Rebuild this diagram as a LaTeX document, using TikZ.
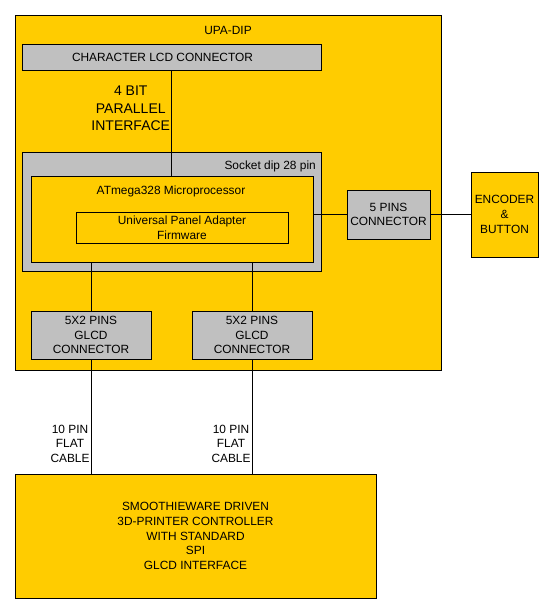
\documentclass[tikz,border=0pt]{standalone}
\usepackage{fontspec}
\setmainfont{Liberation Sans}
\definecolor{upayellow}{RGB}{255,204,0}
\definecolor{upagray}{RGB}{192,192,192}
\tikzset{
  ybox/.style={draw, fill=upayellow, line width=0.9pt, inner sep=0pt},
  gbox/.style={draw, fill=upagray, line width=0.9pt, inner sep=0pt},
  txt/.style={font=\fontsize{11.9}{14.7}\selectfont, align=center, inner sep=0pt},
  wire/.style={line width=0.9pt}
}
\begin{document}
\begin{tikzpicture}[x=1pt, y=-1pt]
        \useasboundingbox (0,0) rectangle (550,613);

        % UPA-DIP board
        \node[ybox, minimum width=426pt, minimum height=355pt] (board) at (228,192.5) {};
        \node[txt] (boardtitle) at (228,30) {UPA-DIP};

        % Character LCD connector
        \node[gbox, minimum width=299pt, minimum height=26pt] (lcd) at (171.5,57) {};
        \node[txt] (lcdtitle) at (162.5,57) {CHARACTER LCD CONNECTOR};

        % Socket with the microprocessor
        \node[gbox, minimum width=299pt, minimum height=119pt] (socket) at (171.5,211.5) {};
        \node[txt, anchor=east] (sockettitle) at (316,166) {Socket dip 28 pin};
        \node[ybox, minimum width=282pt, minimum height=86pt] (micro) at (172,219) {};
        \node[txt] (microtitle) at (171,191) {ATmega328 Microprocessor};
        \node[ybox, txt, minimum width=212pt, minimum height=31pt] (firmware) at (182,227.5) {Universal Panel Adapter\\Firmware};

        % 5 pins connector and encoder
        \node[gbox, txt, minimum width=83pt, minimum height=49pt] (pins5) at (388.5,214.5) {5 PINS\\CONNECTOR};
        \node[ybox, txt, minimum width=67pt, minimum height=85pt] (encoder) at (504.5,214.5) {ENCODER\\\&\\BUTTON};

        % GLCD connectors
        \node[gbox, txt, minimum width=120pt, minimum height=48pt] (glcda) at (91,335) {5X2 PINS\\GLCD\\CONNECTOR};
        \node[gbox, txt, minimum width=120pt, minimum height=48pt] (glcdb) at (252,335) {5X2 PINS\\GLCD\\CONNECTOR};

        % 3D printer controller
        \node[ybox, txt, minimum width=361pt, minimum height=124pt] (ctrl) at (195.5,536) {SMOOTHIEWARE DRIVEN\\3D-PRINTER CONTROLLER\\WITH STANDARD\\SPI\\GLCD INTERFACE};

        % Wires
        \draw[wire] (lcd.south) -- (lcd.south |- micro.north)
            node[pos=0.36, left=1pt, txt, font=\fontsize{14}{17.5}\selectfont] {4 BIT\\PARALLEL\\INTERFACE};
        \draw[wire] (pins5.west) -- (pins5.west -| micro.east);
        \draw[wire] (pins5.east) -- (encoder.west);
        \draw[wire] (glcda.north) -- (glcda.north |- micro.south);
        \draw[wire] (glcdb.north) -- (glcdb.north |- micro.south);
        \draw[wire] (glcda.south) -- (glcda.south |- ctrl.north)
            node[pos=0.74, left=1pt, txt] {10 PIN\\FLAT\\CABLE};
        \draw[wire] (glcdb.south) -- (glcdb.south |- ctrl.north)
            node[pos=0.74, left=1pt, txt] {10 PIN\\FLAT\\CABLE};

\end{tikzpicture}
\end{document}
